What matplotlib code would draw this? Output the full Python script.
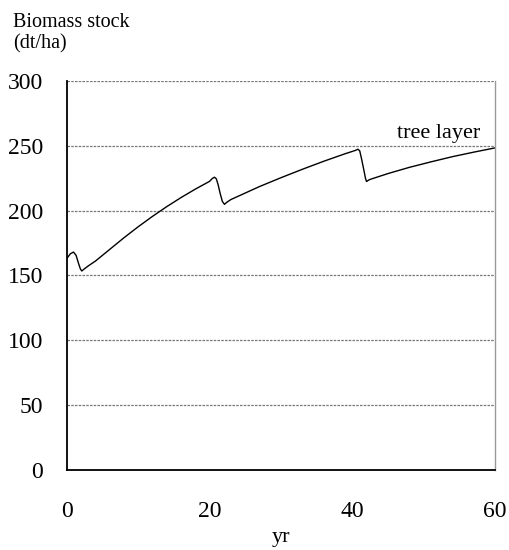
import matplotlib.pyplot as plt

plt.rcParams['font.family'] = ['Liberation Serif', 'DejaVu Serif']

# tree layer biomass over the rotation (yr, dt/ha)
years = [0, 0.5, 0.94, 1.3, 1.6, 1.9, 2.1, 2.4, 3, 4, 6, 8, 10, 12, 14, 16, 18,
         20, 20.4, 20.7, 20.95, 21.2, 21.5, 21.8, 22.1, 22.4, 23, 25, 27,
         30, 33, 36, 39, 40.4, 40.8, 41.05, 41.3, 41.6, 41.85, 42.0, 42.3,
         42.6, 45, 48, 51, 54, 57, 60]
biomass = [163, 166.7, 168, 165.5, 160, 155, 153.4, 154.8, 157.3, 161, 170,
           179, 187.5, 195.5, 203, 210, 216.5, 222.5, 224.8, 225.7, 224.5, 220,
           213, 207, 204.8, 206.3, 208.5, 213.5, 218.5, 225.3, 231.8, 238,
           243.8, 246.3, 247.3, 246, 240, 232, 225, 222.4, 223.5, 224.2, 228.5,
           233.3, 237.5, 241.5, 245, 248.3]

xticks = [0, 20, 40, 60]
yticks = [0, 50, 100, 150, 200, 250, 300]

fig = plt.figure(figsize=(5.1, 5.5), dpi=100)
ax = fig.add_axes([0.131, 0.1455, 0.8395, 0.7075])

ax.plot(years, biomass, color='black', lw=1.0)

ax.set_xlim(0, 60)
ax.set_ylim(0, 300)
ax.set_xticks(xticks)
ax.set_yticks(yticks)
ax.tick_params(axis='both', length=0, labelsize=17)
ax.tick_params(axis='x', pad=22)
ax.tick_params(axis='y', pad=17)

# dashed horizontal grid
for y in yticks[1:]:
    ax.axhline(y, color='#777777', lw=0.9, ls=(0, (2, 1)), zorder=0)

ax.spines['top'].set_visible(False)
ax.spines['right'].set_color('#999999')
ax.spines['right'].set_linewidth(1.0)
ax.spines['left'].set_linewidth(1.3)
ax.spines['bottom'].set_linewidth(1.3)

ax.set_xlabel('yr', fontsize=16, labelpad=5)
ax.text(57.9, 252, 'tree layer', fontsize=16, ha='right', va='bottom')

fig.text(0.025, 0.977, 'Biomass stock\n(dt/ha)', fontsize=14.5,
         ha='left', va='top', linespacing=1.15)

fig.savefig('out.png', dpi=100)
